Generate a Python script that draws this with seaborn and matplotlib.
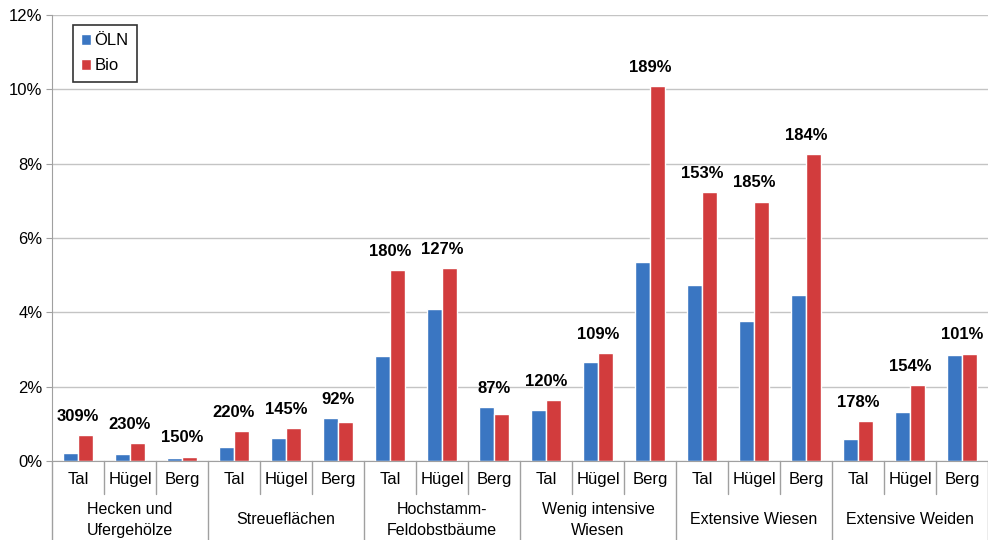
import pandas as pd
import seaborn as sns
import matplotlib.pyplot as plt
import matplotlib.transforms as mtransforms

# Daten (Anteil an der Fläche in %)
groups = ["Hecken und\nUfergehölze", "Streueflächen", "Hochstamm-\nFeldobstbäume",
          "Wenig intensive\nWiesen", "Extensive Wiesen", "Extensive Weiden"]
zones = ["Tal", "Hügel", "Berg"]
oeln = [0.22, 0.20, 0.07, 0.37, 0.62, 1.16, 2.83, 4.09, 1.45,
        1.37, 2.67, 5.35, 4.73, 3.77, 4.47, 0.60, 1.33, 2.85]
bio = [0.70, 0.48, 0.12, 0.81, 0.89, 1.05, 5.14, 5.20, 1.26,
       1.64, 2.91, 10.09, 7.24, 6.98, 8.25, 1.08, 2.04, 2.89]
ratio = ["309%", "230%", "150%", "220%", "145%", "92%", "180%", "127%", "87%",
         "120%", "109%", "189%", "153%", "185%", "184%", "178%", "154%", "101%"]

keys = [f"{g}|{z}" for g in groups for z in zones]
df = pd.DataFrame({
    "key": keys * 2,
    "Serie": ["ÖLN"] * len(keys) + ["Bio"] * len(keys),
    "Wert": oeln + bio,
})

sns.set_style("white")
plt.rcParams['font.family'] = ['Liberation Sans', 'DejaVu Sans']
plt.rcParams['text.color'] = 'black'
plt.rcParams['xtick.color'] = 'black'
plt.rcParams['ytick.color'] = 'black'

fig = plt.figure(figsize=(9.88, 5.4), dpi=100)
ax = fig.add_axes([52 / 988, 79 / 540, 936 / 988, 446 / 540])

sns.barplot(data=df, x="key", y="Wert", hue="Serie", order=keys,
            palette={"ÖLN": "#3a76c2", "Bio": "#d23c3d"}, width=0.58,
            saturation=1, ax=ax, legend=True)

ax.set_xlim(-0.5, len(keys) - 0.5)
ax.set_ylim(0, 12)
ax.set_yticks(range(0, 13, 2))
ax.set_yticklabels([f"{v}%" for v in range(0, 13, 2)], fontsize=12)
ax.yaxis.grid(True, color="#c4c4c4", linewidth=1)
ax.set_axisbelow(True)
ax.tick_params(axis="y", length=4, color="#a0a0a0", pad=3, left=True)
ax.set_xticks(range(len(keys)))
ax.set_xticklabels(zones * len(groups), fontsize=12)
ax.tick_params(axis="x", length=0, pad=8)
ax.set_xlabel("")
ax.set_ylabel("")
for s in ["top", "right"]:
    ax.spines[s].set_visible(False)
ax.spines["left"].set_color("#a0a0a0")
ax.spines["bottom"].set_color("#a0a0a0")

# Prozentangaben über den Balkenpaaren
for i, lab in enumerate(ratio):
    top = max(oeln[i], bio[i])
    ax.annotate(lab, (i, top), xytext=(0, 8), textcoords="offset points",
                ha="center", va="bottom", fontsize=12, fontweight="bold",
                annotation_clip=False)

# Trennlinien und Gruppenbeschriftungen
trans = mtransforms.blended_transform_factory(ax.transData, ax.transAxes)
for i in range(len(keys) + 1):
    x = i - 0.5
    if i % 3 == 0:
        ax.plot([x, x], [0, -0.2], color="#a0a0a0", lw=1, transform=trans, clip_on=False)
    else:
        ax.plot([x, x], [0, -0.075], color="#a0a0a0", lw=1, transform=trans, clip_on=False)
for j, g in enumerate(groups):
    ax.text(3 * j + 1, -0.132, g, transform=trans, ha="center", va="center",
            fontsize=11.5, linespacing=1.55)

leg = ax.legend(loc="upper left", bbox_to_anchor=(0.0224, 0.9776), frameon=True,
                fancybox=False, edgecolor="black", fontsize=12,
                handlelength=0.6, handleheight=0.6, handletextpad=0.2,
                borderpad=0.5, labelspacing=0.6, borderaxespad=0)
leg.get_frame().set_linewidth(1.2)

fig.savefig("out.png", dpi=100)
